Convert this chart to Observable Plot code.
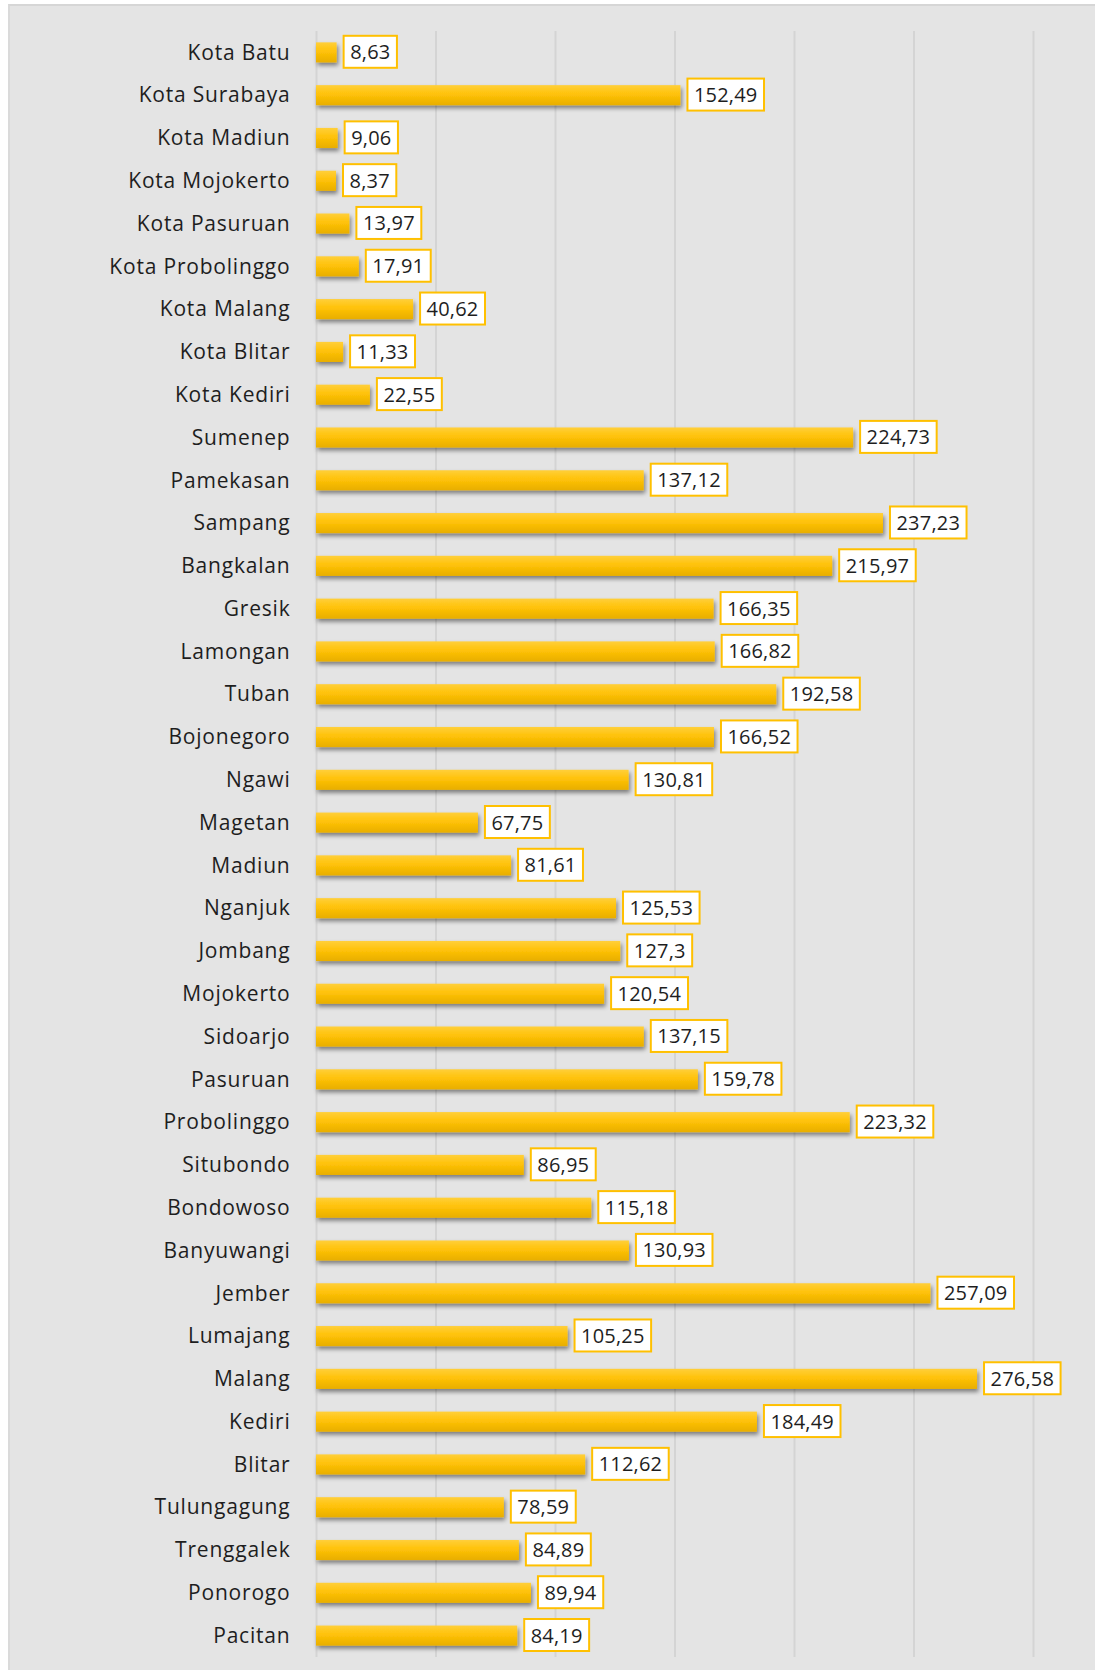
<!DOCTYPE html>
<html>
<head>
<meta charset="utf-8">
<script src="https://cdn.jsdelivr.net/npm/d3@7"></script>
<script src="https://cdn.jsdelivr.net/npm/@observablehq/plot@0.6"></script>
<style>
  html, body { margin: 0; padding: 0; background: #ffffff; }
  #frame {
    position: absolute; left: 8px; top: 4px;
    width: 1087px; height: 1666px;
    background: #e4e4e4;
    border-top: 2px solid #d6d6d6;
    border-left: 2px solid #dadada;
    box-sizing: border-box;
  }
  #chart { position: absolute; left: -2px; top: -2px; }
  #chart svg text { letter-spacing: 0.8px; }
  #chart svg g.vals text { letter-spacing: 0.2px; }
</style>
</head>
<body>
<div id="frame"><div id="chart"></div></div>
<script>
const regions = ["Kota Batu","Kota Surabaya","Kota Madiun","Kota Mojokerto","Kota Pasuruan","Kota Probolinggo","Kota Malang","Kota Blitar","Kota Kediri","Sumenep","Pamekasan","Sampang","Bangkalan","Gresik","Lamongan","Tuban","Bojonegoro","Ngawi","Magetan","Madiun","Nganjuk","Jombang","Mojokerto","Sidoarjo","Pasuruan","Probolinggo","Situbondo","Bondowoso","Banyuwangi","Jember","Lumajang","Malang","Kediri","Blitar","Tulungagung","Trenggalek","Ponorogo","Pacitan"];
const values = [8.63,152.49,9.06,8.37,13.97,17.91,40.62,11.33,22.55,224.73,137.12,237.23,215.97,166.35,166.82,192.58,166.52,130.81,67.75,81.61,125.53,127.3,120.54,137.15,159.78,223.32,86.95,115.18,130.93,257.09,105.25,276.58,184.49,112.62,78.59,84.89,89.94,84.19];
const labels = ["8,63","152,49","9,06","8,37","13,97","17,91","40,62","11,33","22,55","224,73","137,12","237,23","215,97","166,35","166,82","192,58","166,52","130,81","67,75","81,61","125,53","127,3","120,54","137,15","159,78","223,32","86,95","115,18","130,93","257,09","105,25","276,58","184,49","112,62","78,59","84,89","89,94","84,19"];
const xTicks = [0,50,100,150,200,250,300];

const data = regions.map((r, i) => ({region: r, value: values[i], label: labels[i]}));
const FONT = "'Open Sans', sans-serif";

const chart = Plot.plot({
  width: 1087,
  height: 1666,
  marginLeft: 308,
  marginRight: 62,
  marginTop: 27,
  marginBottom: 13,
  style: {background: "transparent", fontFamily: FONT, fontSize: "21px", color: "#1e1e1e"},
  x: {domain: [0, 300], ticks: xTicks, axis: null},
  y: {domain: regions, paddingInner: 0.53, paddingOuter: 0.265, align: 0.5, round: false, label: null},
  marks: [
    Plot.ruleX(xTicks, {stroke: "#d4d4d4", strokeWidth: 2}),
    Plot.barX(data, {y: "region", x: "value", fill: "url(#barGrad)", className: "bars"}),
    Plot.text(data, {y: "region", x: "value", text: "label", textAnchor: "start", dx: 13, fill: "#1e1e1e", fontSize: 20, className: "vals"}),
    Plot.axisY({tickSize: 0, tickPadding: 26, fontSize: 21, fill: "#1e1e1e", label: null})
  ]
});

document.getElementById("chart").appendChild(chart);

const svg = d3.select(chart);
const defs = svg.insert("defs", ":first-child");
const g = defs.append("linearGradient").attr("id", "barGrad").attr("x1", 0).attr("y1", 0).attr("x2", 0).attr("y2", 1);
g.append("stop").attr("offset", "0%").attr("stop-color", "#ffcf3a");
g.append("stop").attr("offset", "45%").attr("stop-color", "#ffc208");
g.append("stop").attr("offset", "100%").attr("stop-color", "#e8ae00");
const f = defs.append("filter").attr("id", "shadow").attr("x", "-5%").attr("y", "-30%").attr("width", "120%").attr("height", "190%");
f.append("feDropShadow").attr("dx", 1.5).attr("dy", 3).attr("stdDeviation", 2).attr("flood-color", "#000").attr("flood-opacity", 0.45);
svg.selectAll("g.bars").attr("filter", "url(#shadow)");

// white boxes with gold border behind value labels
svg.selectAll("g.vals text").each(function() {
  const bb = this.getBBox();
  const padX = 6.5;
  const h = 32;
  const cy = bb.y + bb.height / 2;
  const tr = this.getAttribute("transform");
  const r = d3.select(this.parentNode).insert("rect", () => this)
    .attr("x", bb.x - padX)
    .attr("y", cy - h / 2)
    .attr("width", bb.width + 2 * padX)
    .attr("height", h)
    .attr("fill", "#ffffff")
    .attr("stroke", "#ffc000")
    .attr("stroke-width", 2);
  if (tr) r.attr("transform", tr);
});
</script>
</body>
</html>
